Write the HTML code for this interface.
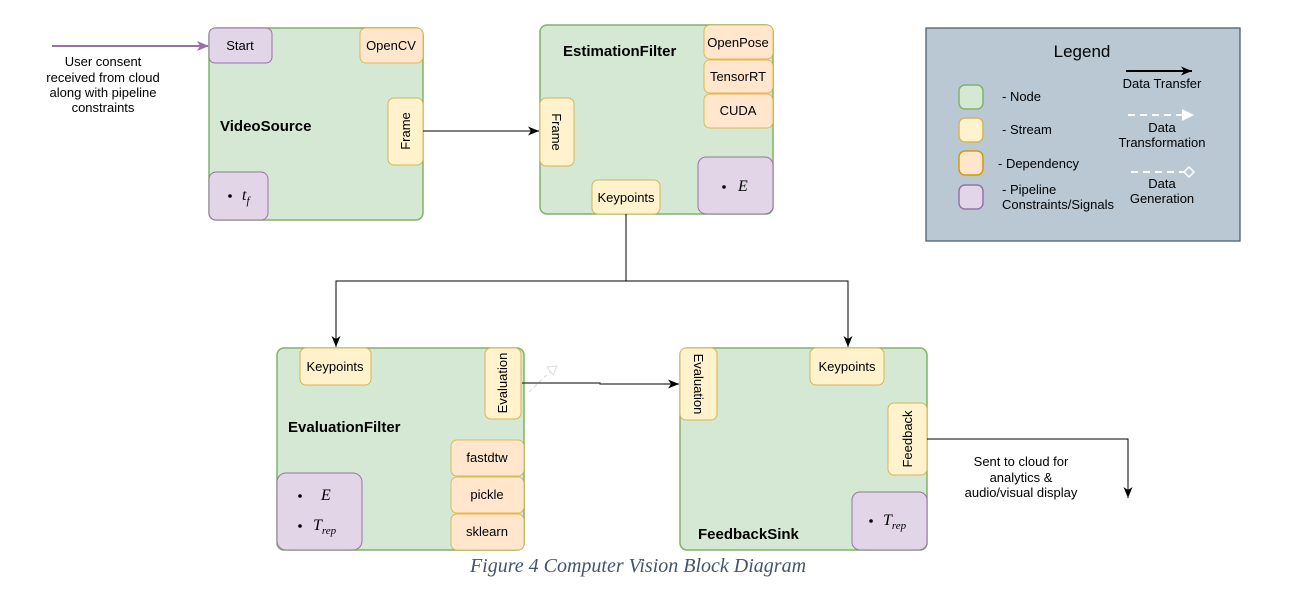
<!DOCTYPE html>
<html><head><meta charset="utf-8"><style>
html,body{margin:0;padding:0;background:#fff;}
svg{display:block;font-family:"Liberation Sans",Arial,sans-serif;}
</style></head><body>
<svg width="1296" height="604" viewBox="0 0 1296 604" xmlns="http://www.w3.org/2000/svg">
<defs>
<marker id="ab" markerWidth="12" markerHeight="12" refX="11" refY="6" orient="auto" markerUnits="userSpaceOnUse"><path d="M0,1.5 L11,6 L0,10.5 L3,6 z" fill="#000"/></marker>
<marker id="ap" markerWidth="12" markerHeight="12" refX="11" refY="6" orient="auto" markerUnits="userSpaceOnUse"><path d="M0,1 L12,6 L0,11 L3,6 z" fill="#9673a6"/></marker>
</defs>
<g font-size="13" fill="#000">
<line x1="52" y1="46" x2="208" y2="46" stroke="#9673a6" stroke-width="2" marker-end="url(#ap)"/>
<text text-anchor="middle" x="103" y="66">User consent</text>
<text text-anchor="middle" x="103" y="82">received from cloud</text>
<text text-anchor="middle" x="103" y="97">along with pipeline</text>
<text text-anchor="middle" x="103" y="112">constraints</text>

<rect x="209" y="28" width="214" height="192" rx="7" fill="#d5e8d4" stroke="#82b366" stroke-width="1.5"/>
<rect x="209" y="28" width="63" height="35" rx="6" fill="#e1d5e7" stroke="#9673a6"/>
<text x="240" y="50" text-anchor="middle">Start</text>
<rect x="360" y="28" width="63" height="35" rx="6" fill="#ffe6cc" stroke="#d79b00" stroke-opacity=".6"/>
<text x="391" y="50" text-anchor="middle">OpenCV</text>
<rect x="388" y="98" width="35" height="67" rx="6" fill="#fff2cc" stroke="#d6b656"/>
<text transform="translate(410,131) rotate(-90)" text-anchor="middle">Frame</text>
<text x="220" y="131" font-weight="bold" font-size="15">VideoSource</text>
<rect x="209" y="172" width="59" height="48" rx="7" fill="#e1d5e7" stroke="#9673a6"/>
<circle cx="230" cy="196" r="1.8" fill="#000"/>
<text x="242" y="200" font-family="Liberation Serif,serif" font-style="italic" font-size="16">t<tspan font-size="11" dy="4">f</tspan></text>

<line x1="423" y1="131" x2="539" y2="131" stroke="#333" stroke-width="1.2" marker-end="url(#ab)"/>

<rect x="540" y="25" width="233" height="189" rx="7" fill="#d5e8d4" stroke="#82b366" stroke-width="1.5"/>
<text x="563" y="56" font-weight="bold" font-size="15">EstimationFilter</text>
<rect x="704" y="25" width="69" height="34" rx="6" fill="#ffe6cc" stroke="#d79b00" stroke-opacity=".6"/>
<text x="738" y="47" text-anchor="middle">OpenPose</text>
<rect x="704" y="60" width="69" height="33" rx="6" fill="#ffe6cc" stroke="#d79b00" stroke-opacity=".6"/>
<text x="738" y="81" text-anchor="middle">TensorRT</text>
<rect x="704" y="94" width="69" height="34" rx="6" fill="#ffe6cc" stroke="#d79b00" stroke-opacity=".6"/>
<text x="738" y="115" text-anchor="middle">CUDA</text>
<rect x="540" y="98" width="34" height="68" rx="6" fill="#fff2cc" stroke="#d6b656"/>
<text transform="translate(552,132) rotate(90)" text-anchor="middle">Frame</text>
<rect x="592" y="180" width="68" height="34" rx="6" fill="#fff2cc" stroke="#d6b656"/>
<text x="626" y="202" text-anchor="middle">Keypoints</text>
<rect x="698" y="157" width="75" height="57" rx="8" fill="#e1d5e7" stroke="#9673a6"/>
<circle cx="724" cy="187" r="1.8" fill="#000"/>
<text x="738" y="191" font-family="Liberation Serif,serif" font-style="italic" font-size="16">E</text>

<polyline points="626,214 626,281 336,281 336,347" fill="none" stroke="#000" stroke-width="1" marker-end="url(#ab)"/>
<polyline points="626,281 848,281 848,347" fill="none" stroke="#000" stroke-width="1" marker-end="url(#ab)"/>

<rect x="926" y="28" width="314" height="213" fill="#bac8d3" stroke="#4d5f70" stroke-width="1.3"/>
<text x="1082" y="57" text-anchor="middle" font-size="17">Legend</text>
<rect x="959" y="85" width="24" height="24" rx="6" fill="#d5e8d4" stroke="#82b366" stroke-width="1.5"/>
<rect x="959" y="118" width="24" height="24" rx="6" fill="#fff2cc" stroke="#d6b656" stroke-width="1.5"/>
<rect x="959" y="151" width="24" height="24" rx="6" fill="#ffe6cc" stroke="#d79b00" stroke-width="1.5"/>
<rect x="959" y="185" width="24" height="24" rx="6" fill="#e1d5e7" stroke="#9673a6" stroke-width="1.5"/>
<text x="1002" y="101">- Node</text>
<text x="1002" y="134">- Stream</text>
<text x="998" y="168">- Dependency</text>
<text x="1002" y="194">- Pipeline</text>
<text x="1002" y="209">Constraints/Signals</text>
<line x1="1126" y1="71" x2="1192" y2="71" stroke="#000" stroke-width="2" marker-end="url(#ab)"/>
<text x="1162" y="88" text-anchor="middle">Data Transfer</text>
<line x1="1128" y1="115" x2="1185" y2="115" stroke="#fff" stroke-width="2" stroke-dasharray="7,5"/>
<path d="M1182,109 L1194,115 L1182,121 z" fill="#fff"/>
<text x="1162" y="132" text-anchor="middle">Data</text>
<text x="1162" y="147" text-anchor="middle">Transformation</text>
<line x1="1131" y1="172" x2="1184" y2="172" stroke="#fff" stroke-width="2" stroke-dasharray="7,5"/>
<path d="M1189,167 L1194,172 L1189,177 L1184,172 z" fill="none" stroke="#fff" stroke-width="1.5"/>
<text x="1162" y="188" text-anchor="middle">Data</text>
<text x="1162" y="203" text-anchor="middle">Generation</text>

<rect x="277" y="348" width="247" height="202" rx="7" fill="#d5e8d4" stroke="#82b366" stroke-width="1.5"/>
<rect x="300" y="348" width="71" height="37" rx="6" fill="#fff2cc" stroke="#d6b656"/>
<text x="335" y="371" text-anchor="middle">Keypoints</text>
<rect x="485" y="348" width="36" height="71" rx="6" fill="#fff2cc" stroke="#d6b656"/>
<text transform="translate(507,383) rotate(-90)" text-anchor="middle">Evaluation</text>
<text x="288" y="432" font-weight="bold" font-size="15">EvaluationFilter</text>
<rect x="451" y="440" width="73" height="36" rx="6" fill="#ffe6cc" stroke="#d79b00" stroke-opacity=".6"/>
<text x="487" y="462" text-anchor="middle">fastdtw</text>
<rect x="451" y="477" width="73" height="36" rx="6" fill="#ffe6cc" stroke="#d79b00" stroke-opacity=".6"/>
<text x="487" y="499" text-anchor="middle">pickle</text>
<rect x="451" y="514" width="73" height="36" rx="6" fill="#ffe6cc" stroke="#d79b00" stroke-opacity=".6"/>
<text x="487" y="536" text-anchor="middle">sklearn</text>
<rect x="277" y="473" width="85" height="77" rx="9" fill="#e1d5e7" stroke="#9673a6"/>
<circle cx="300" cy="496" r="1.8" fill="#000"/>
<text x="321" y="500" font-family="Liberation Serif,serif" font-style="italic" font-size="16">E</text>
<circle cx="300" cy="526" r="1.8" fill="#000"/>
<text x="313" y="530" font-family="Liberation Serif,serif" font-style="italic" font-size="16">T<tspan font-size="11" dy="4">rep</tspan></text>

<line x1="529" y1="392" x2="552" y2="370" stroke="#ddd" stroke-width="1.2" stroke-dasharray="4,3"/>
<path d="M547,367 L557,366 L553,375 z" fill="#fff" stroke="#ddd"/>

<polyline points="522,383 600,383 600,384 679,384" fill="none" stroke="#333" stroke-width="1.2" marker-end="url(#ab)"/>

<rect x="680" y="348" width="247" height="202" rx="7" fill="#d5e8d4" stroke="#82b366" stroke-width="1.5"/>
<rect x="680" y="348" width="37" height="72" rx="6" fill="#fff2cc" stroke="#d6b656"/>
<text transform="translate(694,384) rotate(90)" text-anchor="middle">Evaluation</text>
<rect x="810" y="348" width="74" height="37" rx="6" fill="#fff2cc" stroke="#d6b656"/>
<text x="847" y="371" text-anchor="middle">Keypoints</text>
<rect x="888" y="403" width="39" height="72" rx="6" fill="#fff2cc" stroke="#d6b656"/>
<text transform="translate(912,439) rotate(-90)" text-anchor="middle">Feedback</text>
<rect x="852" y="492" width="75" height="58" rx="8" fill="#e1d5e7" stroke="#9673a6"/>
<circle cx="871" cy="521" r="1.8" fill="#000"/>
<text x="883" y="525" font-family="Liberation Serif,serif" font-style="italic" font-size="16">T<tspan font-size="11" dy="4">rep</tspan></text>
<text x="698" y="539" font-weight="bold" font-size="15">FeedbackSink</text>

<polyline points="927,439 1128,439 1128,498" fill="none" stroke="#000" stroke-width="1" marker-end="url(#ab)"/>
<text x="1021" y="466" text-anchor="middle">Sent to cloud for</text>
<text x="1021" y="482" text-anchor="middle">analytics &amp;</text>
<text x="1021" y="497" text-anchor="middle">audio/visual display</text>
</g>
<text x="638" y="572" text-anchor="middle" font-family="Liberation Serif,serif" font-style="italic" font-size="20" fill="#44546a">Figure 4 Computer Vision Block Diagram</text>
</svg>
</body></html>
